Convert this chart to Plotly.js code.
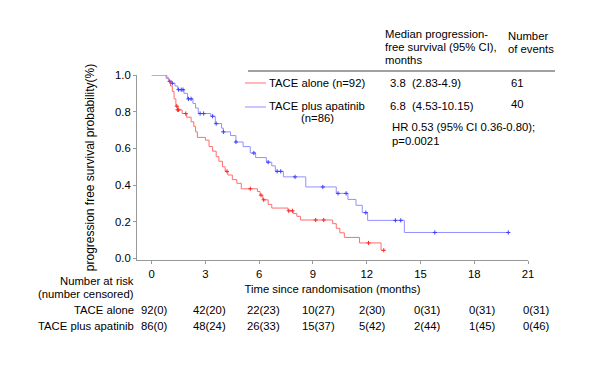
<!DOCTYPE html>
<html>
<head>
<meta charset="utf-8">
<script src="https://cdn.plot.ly/plotly-3.0.1.min.js"></script>
<style>html,body{margin:0;padding:0;background:#fff}#chart{width:600px;height:365px}</style>
</head>
<body>
<div id="chart"></div>
<script>
// ---- data ----
const aloneTimes = [0, 0.84, 0.95, 1.05, 1.15, 1.25, 1.35, 1.45, 1.7, 1.95, 2.2, 2.35, 2.45, 2.55, 3.0, 3.2, 3.4, 3.6, 3.75, 3.95, 4.1, 4.25, 4.5, 4.75, 5.0, 5.9, 6.05, 6.2, 6.5, 6.7, 7.6, 7.9, 8.1, 8.3, 10.1, 10.3, 10.5, 10.75, 11.6, 12.8, 13.0];
const aloneSurv  = [1.0, 0.98, 0.965, 0.94, 0.91, 0.87, 0.83, 0.81, 0.79, 0.77, 0.745, 0.72, 0.69, 0.66, 0.645, 0.61, 0.585, 0.555, 0.53, 0.5, 0.475, 0.455, 0.43, 0.41, 0.38, 0.365, 0.345, 0.32, 0.295, 0.275, 0.26, 0.245, 0.23, 0.21, 0.19, 0.165, 0.14, 0.115, 0.085, 0.045, 0.045];
const aloneCensT = [1.0, 1.4, 1.45, 1.5, 1.9, 4.2, 5.5, 6.1, 6.25, 7.65, 7.85, 9.15, 9.6, 12.1, 12.95];
const aloneCensS = [0.965, 0.83, 0.81, 0.81, 0.79, 0.475, 0.38, 0.345, 0.32, 0.26, 0.26, 0.21, 0.21, 0.085, 0.045];

const apaTimes = [0, 0.8, 0.95, 1.1, 1.3, 1.45, 1.8, 2.0, 2.3, 2.45, 2.6, 3.3, 3.55, 3.9, 4.0, 4.4, 4.7, 5.1, 5.5, 5.8, 6.4, 6.7, 6.9, 7.35, 8.6, 10.3, 10.95, 11.4, 11.75, 12.05, 14.1, 19.9];
const apaSurv  = [1.0, 0.985, 0.97, 0.955, 0.94, 0.92, 0.9, 0.87, 0.845, 0.82, 0.79, 0.775, 0.735, 0.71, 0.69, 0.67, 0.635, 0.61, 0.575, 0.55, 0.525, 0.505, 0.475, 0.445, 0.39, 0.355, 0.322, 0.29, 0.25, 0.208, 0.142, 0.142];
const apaCensT = [1.15, 1.5, 1.65, 1.75, 2.05, 2.2, 2.7, 2.9, 3.4, 3.6, 4.0, 4.7, 5.7, 6.5, 7.0, 7.2, 8.0, 9.55, 10.4, 10.85, 11.95, 13.6, 13.9, 15.8, 19.9];
const apaCensS = [0.955, 0.92, 0.92, 0.92, 0.87, 0.87, 0.79, 0.79, 0.775, 0.735, 0.69, 0.635, 0.575, 0.525, 0.475, 0.475, 0.445, 0.39, 0.355, 0.355, 0.25, 0.208, 0.208, 0.142, 0.142];

const xTicks = [0, 3, 6, 9, 12, 15, 18, 21];
const yTicks = [0.0, 0.2, 0.4, 0.6, 0.8, 1.0];
const yTickText = ['0.0', '0.2', '0.4', '0.6', '0.8', '1.0'];

const riskTimes = [0, 3, 6, 9, 12, 15, 18, 21];
const aloneAtRisk = [92, 42, 22, 10, 2, 0, 0, 0];
const aloneCensored = [0, 20, 23, 27, 30, 31, 31, 31];
const apaAtRisk = [86, 48, 26, 15, 5, 2, 1, 0];
const apaCensored = [0, 24, 33, 37, 42, 44, 45, 46];

const groupNames = ['TACE alone (n=92)', 'TACE plus apatinib'];
const medians = ['3.8  (2.83-4.9)', '6.8  (4.53-10.15)'];
const events = ['61', '40'];
const hrText = ['HR 0.53 (95% CI 0.36-0.80);', 'p=0.0021'];

// ---- styling ----
const redLine = 'rgb(255,110,110)';
const blueLine = 'rgb(145,145,255)';
const redMark = 'rgb(255,40,40)';
const blueMark = 'rgb(60,60,255)';
const FONT = 'Liberation Sans, Arial, sans-serif';
const FS = 11.3;

// layout geometry (pixels)
const L = 137, R = 72, T = 75, B = 105, W = 600, H = 365;
const pw = W - L - R, ph = H - T - B;
const px = p => (p - L) / pw;
const py = p => (H - B - p) / ph;
const xRange = [-0.82, 21];
const dx = t => (t - xRange[0]) / (xRange[1] - xRange[0]);

const traces = [
  {x: aloneTimes, y: aloneSurv, mode: 'lines', line: {shape: 'hv', color: redLine, width: 1}, hoverinfo: 'skip', showlegend: false},
  {x: apaTimes, y: apaSurv, mode: 'lines', line: {shape: 'hv', color: blueLine, width: 1}, hoverinfo: 'skip', showlegend: false},
  {x: aloneCensT, y: aloneCensS, mode: 'markers', marker: {symbol: 'cross-thin', size: 3, line: {color: redMark, width: 1}}, showlegend: false, cliponaxis: false},
  {x: apaCensT, y: apaCensS, mode: 'markers', marker: {symbol: 'cross-thin', size: 3, line: {color: blueMark, width: 1}}, showlegend: false, cliponaxis: false}
];

const ann = [];
const txt = (x, y, text, anchor) => ann.push({xref: 'paper', yref: 'paper', x: px(x), y: py(y), text: text, showarrow: false, xanchor: anchor || 'left', yanchor: 'middle', font: {family: FONT, size: FS, color: '#000'}});

// risk table
txt(136, 281, 'Number at risk', 'right');
txt(136, 294, '(number censored)', 'right');
txt(136, 310, 'TACE alone', 'right');
txt(136, 326, 'TACE plus apatinib', 'right');
riskTimes.forEach((t, i) => {
  const xp = dx(t) + (3 + i * 0.8) / pw;
  ann.push({xref: 'paper', yref: 'paper', x: xp, y: py(310), text: aloneAtRisk[i] + '(' + aloneCensored[i] + ')', showarrow: false, xanchor: 'center', yanchor: 'middle', font: {family: FONT, size: FS, color: '#000'}});
  ann.push({xref: 'paper', yref: 'paper', x: xp, y: py(326), text: apaAtRisk[i] + '(' + apaCensored[i] + ')', showarrow: false, xanchor: 'center', yanchor: 'middle', font: {family: FONT, size: FS, color: '#000'}});
});

// legend table
txt(383, 34, 'Median progression-');
txt(383, 47, 'free survival (95% CI),');
txt(383, 60, 'months');
txt(506, 36, 'Number');
txt(506, 49, 'of events');
txt(267, 83, groupNames[0]);
txt(267, 106, groupNames[1]);
txt(317, 118, '(n=86)', 'center');
txt(388, 83, medians[0]);
txt(388, 106, medians[1]);
txt(517, 83, events[0], 'center');
txt(517, 104, events[1], 'center');
txt(390, 127, hrText[0]);
txt(390, 141, hrText[1]);

const shapes = [
  {type: 'line', xref: 'paper', yref: 'paper', x0: px(248), x1: px(555), y0: py(71), y1: py(71), line: {color: '#444', width: 1}},
  {type: 'line', xref: 'paper', yref: 'paper', x0: px(245), x1: px(266), y0: py(83), y1: py(83), line: {color: redLine, width: 1}},
  {type: 'line', xref: 'paper', yref: 'paper', x0: px(245), x1: px(266), y0: py(107), y1: py(107), line: {color: blueLine, width: 1}}
];

const layout = {
  width: W, height: H,
  margin: {l: L, r: R, t: T, b: B, pad: 0},
  paper_bgcolor: '#fff', plot_bgcolor: '#fff',
  font: {family: FONT, size: FS, color: '#000'},
  xaxis: {
    range: xRange, tickvals: xTicks, ticks: 'outside', ticklen: 3, tickcolor: '#999',
    showline: true, linecolor: '#999', linewidth: 1, showgrid: false, zeroline: false,
    tickfont: {family: FONT, size: FS, color: '#000'},
    title: {text: 'Time since randomisation (months)', font: {family: FONT, size: FS, color: '#000'}, standoff: 6}
  },
  yaxis: {
    range: [-0.008, 1.0], tickvals: yTicks, ticktext: yTickText, ticks: 'outside', ticklen: 3, tickcolor: '#999',
    showline: true, linecolor: '#999', linewidth: 1, showgrid: false, zeroline: false,
    tickfont: {family: FONT, size: FS, color: '#000'},
    title: {text: 'progression free survival probability(%)', font: {family: FONT, size: 12, color: '#000'}, standoff: 17}
  },
  annotations: ann,
  shapes: shapes,
  showlegend: false
};

Plotly.newPlot('chart', traces, layout, {displayModeBar: false, staticPlot: true});
</script>
</body>
</html>
